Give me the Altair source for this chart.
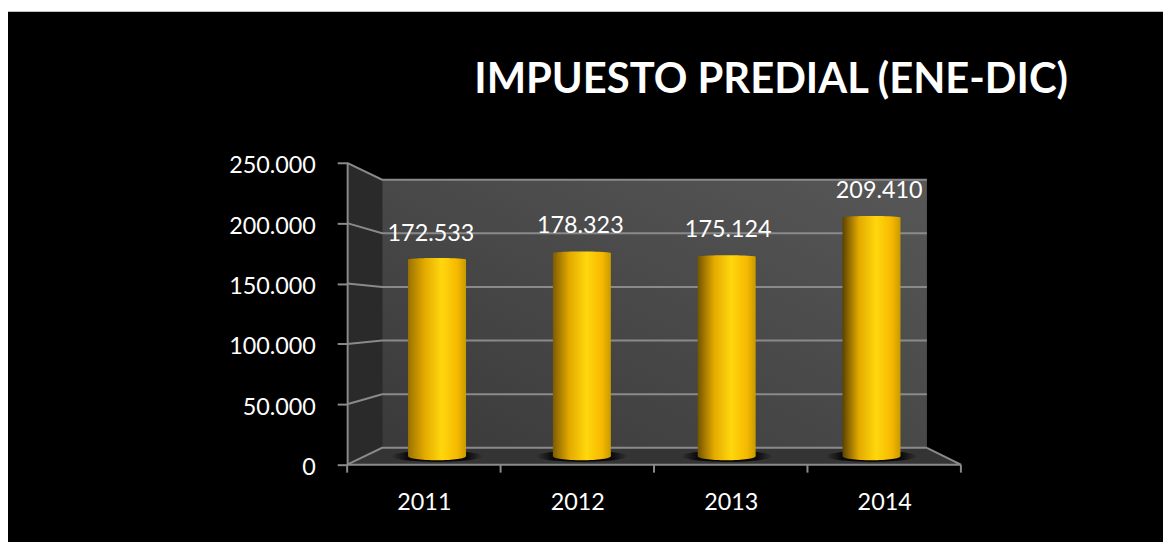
import altair as alt
import pandas as pd

title_text = "IMPUESTO PREDIAL (ENE-DIC)"
years = ["2011", "2012", "2013", "2014"]
values = [172533, 178323, 175124, 209410]
label_shift = [-0.04, -0.01, 0.01, 0.05]
label_lift = [26, 27, 27, 27]
edge_dark = ["#9a7200", "#7d5c00", "#735400", "#5c4200"]
edge_right = ["#c89a00", "#c89a00", "#c89a00", "#c89a00"]
y_ticks = [0, 50000, 100000, 150000, 200000, 250000]

YMAX = 250000
H = 304.0
W = 614.0
BAND = W / 4


def px_v(p):
    return p / H * YMAX


def pv(v, d):
    return px_v(17 * d) + v * (H - 34 * d) / H


def pu(u, d):
    return 35 / BAND * d + u * (1 - 69 / W * d)


x_scale = alt.Scale(domain=[0, 4], nice=False, zero=False)
y_scale = alt.Scale(domain=[0, YMAX], nice=False, zero=True)
x_axis = alt.Axis(
    values=[0.5, 1.5, 2.5, 3.5], labelExpr="format(2010.5 + datum.value, 'd')",
    tickSize=0, domain=False, grid=False, title=None, labelColor="white", zindex=1,
    labelFont="Lato", labelFontSize=23.5, labelPadding=26, labelAngle=0)
y_axis = alt.Axis(
    values=y_ticks, labelExpr="replace(format(datum.value, ','), ',', '.')", zindex=1,
    tickSize=10, tickColor="#8a8a8a", tickWidth=2, domainColor="#8a8a8a", domainWidth=2,
    grid=False, title=None, labelColor="white", labelFont="Lato", labelFontSize=23.5,
    labelPadding=22, labelOffset=3)
X = lambda f: alt.X(f, type="quantitative", scale=x_scale, axis=x_axis)
Y = lambda f: alt.Y(f, type="quantitative", scale=y_scale, axis=y_axis)

# left wall, back wall, floor
left_wall = pd.DataFrame({
    "x": [pu(0, 0), pu(0, 1)],
    "y": [pv(YMAX, 0), pv(YMAX, 1)],
    "y2": [pv(0, 0), pv(0, 1)],
})
floor = pd.DataFrame({
    "x": [pu(0, 0), pu(0, 1), pu(4, 1), pu(4, 0)],
    "y": [pv(0, 0), pv(0, 1), pv(0, 1), pv(0, 0)],
    "y2": [0, 0, 0, 0],
})
back = pd.DataFrame({"x": [pu(0, 1)], "x2": [pu(4, 1)], "y": [pv(YMAX, 1)], "y2": [pv(0, 1)]})

back_grad = alt.Gradient(
    gradient="linear", x1=0, y1=1, x2=1, y2=0,
    stops=[alt.GradientStop(offset=0, color="#3a3a3a"),
           alt.GradientStop(offset=1, color="#575757")],
)

back_layer = alt.Chart(back).mark_rect(fill=back_grad, strokeWidth=0).encode(
    x=X("x"), x2="x2", y=Y("y"), y2="y2")
left_layer = alt.Chart(left_wall).mark_area(color="#2a2a2a").encode(x=X("x"), y=Y("y"), y2="y2")
floor_layer = alt.Chart(floor).mark_area(color="#343434").encode(x=X("x"), y=Y("y"), y2="y2")

# lines: gridlines, corners and tick marks
segs = []


def seg(name, pts):
    for a, b in pts:
        segs.append({"id": name, "x": a, "y": b})


for t in y_ticks:
    seg(f"g{t}", [(pu(0, 0), pv(t, 0)), (pu(0, 1), pv(t, 1)), (pu(4, 1), pv(t, 1))])
seg("floor", [(pu(0, 0), 0), (pu(4, 0), 0), (pu(4, 1), pv(0, 1))])
for i in range(5):
    seg(f"t{i}", [(i, 0), (i, -px_v(8))])
lines = alt.Chart(pd.DataFrame(segs)).mark_line(color="#8a8a8a", strokeWidth=2, clip=False).encode(
    x=X("x"), y=Y("y"), detail="id:N", order=alt.Order("o:Q")
).transform_window(o="row_number()", groupby=["id"])

ELL = "M-1,0A1,{r} 0 1,0 1,0A1,{r} 0 1,0 -1,0Z"
HALF = 29 / BAND
rows = pd.DataFrame({
    "year": years,
    "value": values,
    "cx": [pu(i + 0.5, 0.5) for i in range(4)],
    "top": [pv(v, 0.5) for v in values],
    "base": [pv(0, 0.5)] * 4,
})
rows["x0"] = rows.cx - HALF
rows["x1"] = rows.cx + HALF
rows["lx"] = [c + s for c, s in zip(rows.cx, label_shift)]
rows["ly"] = [t + px_v(l) for t, l in zip(rows.top, label_lift)]
rows["label"] = [f"{v:,}".replace(",", ".") for v in values]

shadow_grad = alt.Gradient(
    gradient="radial", x1=0.5, y1=0.5, x2=0.5, y2=0.5, r1=0, r2=0.5,
    stops=[alt.GradientStop(offset=0, color="#000000"),
           alt.GradientStop(offset=0.65, color="#0a0a0a"),
           alt.GradientStop(offset=1, color="#343434")],
)
shadow = alt.Chart(rows).mark_point(
    shape=ELL.format(r="0.12"), size=92 ** 2, filled=True, fill=shadow_grad, opacity=1, strokeWidth=0
).encode(x=X("cx"), y=Y("base"))

bar_layers = []
for i in range(4):
    g = alt.Gradient(
        gradient="linear", x1=0, y1=0, x2=1, y2=0,
        stops=[alt.GradientStop(offset=0, color=edge_dark[i]),
               alt.GradientStop(offset=0.28, color="#e3a900"),
               alt.GradientStop(offset=0.58, color="#ffd70d"),
               alt.GradientStop(offset=0.85, color="#f6b900"),
               alt.GradientStop(offset=1, color=edge_right[i])],
    )
    one = alt.Chart(rows.iloc[[i]])
    bar_layers.append(one.mark_rect(fill=g, strokeWidth=0).encode(
        x=X("x0"), x2="x1", y=Y("top"), y2="base"))
    bar_layers.append(one.mark_point(
        shape=ELL.format(r="0.14"), size=58 ** 2, filled=True, fill=g, opacity=1, strokeWidth=0
    ).encode(x=X("cx"), y=Y("base")))
    bar_layers.append(one.mark_point(
        shape=ELL.format(r="0.05"), size=58 ** 2, filled=True, fill=g, opacity=1, strokeWidth=0
    ).encode(x=X("cx"), y=Y("top")))

labels = alt.Chart(rows).mark_text(
    color="white", font="Lato", fontSize=23.5, align="center", baseline="middle"
).encode(x=X("lx"), y=Y("ly"), text="label:N")

black_panel = alt.Chart(rows.iloc[[0]]).mark_rect(color="black", clip=False).encode(
    x=alt.value(-342), x2=alt.value(830), y=alt.value(-152), y2=alt.value(385))

title_mark = alt.Chart(pd.DataFrame({"t": [title_text]})).mark_text(
    color="white", font="Lato", fontSize=42, fontWeight="bold", align="left", baseline="middle",
    clip=False,
).encode(x=alt.value(128), y=alt.value(-83), text="t:N")

chart = alt.layer(
    black_panel, back_layer, left_layer, floor_layer, lines, shadow, *bar_layers, labels, title_mark
).properties(
    width=618, height=304,
    padding={"left": 341.5, "top": 154, "right": 203.5, "bottom": 76},
    autosize=alt.AutoSizeParams(type="none"),
    background="white",
).configure_view(stroke=None)

chart.save("out.html", embed_options={"renderer": "svg", "actions": False})
